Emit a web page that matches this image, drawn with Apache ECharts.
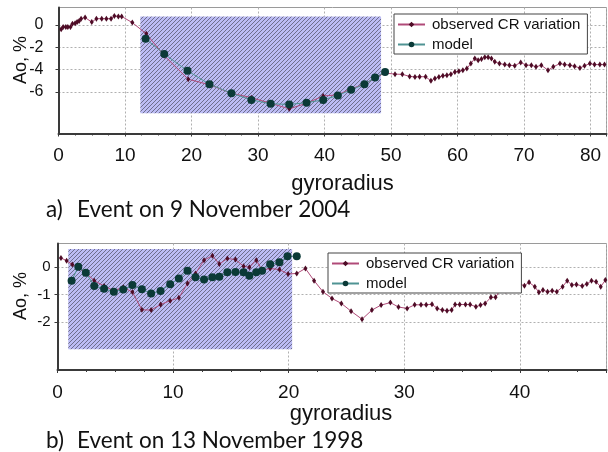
<!DOCTYPE html>
<html>
<head>
<meta charset="utf-8">
<script src="https://cdn.jsdelivr.net/npm/echarts@6/dist/echarts.min.js"></script>
<style>
  html, body { margin: 0; padding: 0; background: #fff; }
  #chart { width: 608px; height: 452px; }
</style>
</head>
<body>
<div id="chart"></div>
<script>
// panel a: event on 9 November 2004  [gyroradius, Ao %]
const obsA = [
  [0.4,-0.4],[0.7,-0.2],[1.1,-0.2],[1.4,-0.2],[1.8,-0.2],[2.1,0.1],[2.5,0.15],[2.8,0.25],[3.1,0.35],[3.4,0.55],
  [4.0,0.65],[5.0,0.25],[5.7,0.55],[6.5,0.55],[7.2,0.55],[7.9,0.55],[8.4,0.8],[9.0,0.75],[9.5,0.75],[11.1,0.2],
  [13.2,-0.8],[15.9,-2.75],[19.5,-4.85],[22.7,-5.35],[26.0,-6.1],[29.0,-6.5],[31.9,-7.0],[34.7,-7.5],[37.3,-7.0],
  [39.8,-6.35],[42.0,-6.25],[44.0,-5.7],[46.0,-5.3],[47.6,-4.7],[49.1,-4.3],[50.6,-4.4],[51.7,-4.42],[52.8,-4.6],
  [53.6,-4.65],[54.3,-4.63],[55.2,-4.63],[56.0,-5.0],[56.6,-4.8],[57.2,-4.65],[57.8,-4.55],[58.4,-4.5],[59.0,-4.4],
  [59.6,-4.2],[60.2,-4.15],[60.8,-4.05],[61.4,-3.9],[62.0,-3.45],[62.6,-3.0],[63.1,-3.15],[63.6,-3.05],[64.1,-2.9],
  [64.6,-2.9],[65.1,-3.0],[65.6,-3.3],[66.3,-3.45],[67.1,-3.55],[67.8,-3.6],[68.6,-3.65],[69.5,-3.35],[70.3,-3.6],
  [71.1,-3.6],[71.8,-3.75],[72.6,-3.6],[73.6,-4.05],[74.4,-3.75],[75.4,-3.45],[76.1,-3.55],[76.9,-3.6],[77.6,-3.7],
  [78.4,-3.85],[79.1,-3.65],[79.9,-3.45],[80.6,-3.55],[81.4,-3.55],[82.1,-3.55]
];
const modelA = [
  [13.1,-1.25],[15.9,-2.6],[19.4,-4.1],[22.7,-5.3],[26.0,-6.1],[29.0,-6.7],[31.9,-7.05],[34.7,-7.1],
  [37.3,-6.95],[39.8,-6.7],[42.0,-6.3],[44.0,-5.8],[46.0,-5.3],[47.6,-4.7],[49.1,-4.2]
];
const shadeA = [[12.3, 0.74], [48.5, -7.9]];
const yTicksA = [-6, -4, -2, 0];

// panel b: event on 13 November 1998
const obsB = [
  [0.3,0.32],[0.79,0.22],[1.28,0.08],[1.9,-0.05],[2.5,-0.24],[3.18,-0.5],[4.03,-0.69],[4.85,-0.86],[5.69,-0.74],
  [6.48,-0.91],[7.3,-1.55],[8.1,-1.56],[8.92,-1.36],[9.75,-1.22],[10.5,-1.12],[11.25,-0.6],[11.94,-0.24],
  [12.68,0.24],[13.4,0.4],[14.0,0.1],[14.7,0.3],[15.4,0.26],[16.1,0.02],[16.6,-0.02],[17.2,0.24],[17.7,-0.12],
  [18.4,-0.06],[19.2,-0.1],[19.95,-0.26],[20.7,-0.24],[21.45,-0.06],[22.2,-0.5],[22.97,-0.9],[23.75,-1.14],
  [24.56,-1.32],[25.4,-1.6],[26.35,-1.89],[27.2,-1.56],[28.0,-1.38],[28.8,-1.29],[29.5,-1.45],[30.25,-1.5],
  [30.9,-1.37],[31.45,-1.37],[31.9,-1.37],[32.4,-1.35],[32.85,-1.5],[33.3,-1.56],[33.7,-1.58],[34.1,-1.56],
  [34.4,-1.36],[34.8,-1.36],[35.3,-1.36],[35.7,-1.36],[36.2,-1.44],[36.6,-1.38],[37.0,-1.32],[37.5,-1.1],
  [37.9,-1.1],[38.3,-0.84],[38.8,-0.86],[39.2,-0.84],[39.6,-0.62],[40.0,-0.62],[40.4,-0.68],[40.8,-0.56],
  [41.3,-0.72],[41.65,-0.92],[42.0,-0.84],[42.4,-0.9],[42.8,-0.86],[43.2,-0.9],[43.7,-0.72],[44.1,-0.5],
  [44.5,-0.66],[44.9,-0.64],[45.4,-0.69],[45.8,-0.62],[46.2,-0.5],[46.6,-0.54],[47.0,-0.72],[47.4,-0.48]
];
const modelB = [
  [1.22,-0.5],[1.8,0.0],[2.45,-0.21],[3.18,-0.69],[4.03,-0.79],[4.87,-0.9],[5.69,-0.82],[6.48,-0.66],
  [7.3,-0.81],[8.1,-0.96],[8.92,-0.87],[9.75,-0.63],[10.5,-0.42],[11.25,-0.14],[11.94,-0.38],[12.68,-0.46],
  [13.4,-0.38],[14.0,-0.36],[14.7,-0.2],[15.4,-0.19],[16.1,-0.2],[16.6,-0.32],[17.2,-0.2],[17.7,-0.14],
  [18.4,0.09],[19.2,0.16],[19.9,0.38],[20.7,0.38]
];
const shadeB = [[0.93, 0.64], [20.3, -2.97]];
const yTicksB = [-2, -1, 0];

const NAMES = ['observed CR variation', 'model'];
const FONT = 'Liberation Sans, Arial, sans-serif';
const CAP = 'Lato, "Open Sans", sans-serif';
const C = {
  obsLine: '#b04a78', obsDot: '#4e0c26',
  modLine: '#4f9393', modDot: '#0b3a37',
  grid: '#b0b0b0', axis: '#3a3a3a', text: '#111'
};

function hatch() {
  const s = 4;
  const c = document.createElement('canvas');
  c.width = s; c.height = s;
  const g = c.getContext('2d');
  g.fillStyle = '#bcbcf4';
  g.fillRect(0, 0, s, s);
  g.strokeStyle = '#5a5a72';
  g.lineWidth = 0.8;
  g.beginPath();
  g.moveTo(-1, s + 1); g.lineTo(s + 1, -1);
  g.moveTo(-1, 1); g.lineTo(1, -1);
  g.moveTo(s - 1, s + 1); g.lineTo(s + 1, s - 1);
  g.stroke();
  return c;
}
const pattern = { image: hatch(), repeat: 'repeat' };

function xAxis(idx, max) {
  return {
    gridIndex: idx, type: 'value', min: 0, max: max, interval: 10,
    axisLine: { show: true, onZero: false, lineStyle: { color: C.axis, width: 2 } },
    axisTick: { show: true, length: 3, lineStyle: { color: C.axis } },
    minorTick: { show: true, splitNumber: 4, length: 2, lineStyle: { color: C.axis } },
    axisLabel: { color: C.text, fontSize: 19, fontFamily: FONT, margin: 13, showMaxLabel: false },
    splitLine: { show: true, lineStyle: { color: C.grid, type: [2, 2], width: 1 } }
  };
}
function yAxis(idx, min, max, ticks, labelSize, margin) {
  return {
    gridIndex: idx, type: 'value', min: min, max: max,
    axisLine: { show: true, onZero: false, lineStyle: { color: C.axis, width: 2 } },
    axisTick: { show: true, length: 3, customValues: ticks, lineStyle: { color: C.axis } },
    axisLabel: { color: C.text, fontSize: labelSize, fontFamily: FONT, margin: margin, customValues: ticks },
    splitLine: { show: true, lineStyle: { color: C.grid, type: [2, 2], width: 1 } }
  };
}
function obsSeries(idx, data, shade) {
  return {
    name: NAMES[0], type: 'line', xAxisIndex: idx, yAxisIndex: idx, data: data,
    symbol: 'diamond', symbolSize: [4, 6], showAllSymbol: true,
    lineStyle: { color: C.obsLine, width: 1 },
    itemStyle: { color: C.obsDot },
    markArea: {
      silent: true,
      itemStyle: { color: pattern },
      data: [[{ coord: shade[0] }, { coord: shade[1] }]]
    }
  };
}
function modelSeries(idx, data) {
  return {
    name: NAMES[1], type: 'line', xAxisIndex: idx, yAxisIndex: idx, data: data, z: 3,
    symbol: 'circle', symbolSize: 8, showAllSymbol: true,
    lineStyle: { color: C.modLine, width: 1 },
    itemStyle: { color: C.modDot }
  };
}
function legend(left, top) {
  return {
    data: NAMES, left: left, top: top, orient: 'vertical',
    itemWidth: 27, itemHeight: 7, itemGap: 5,
    padding: [3, 7, 2, 3],
    backgroundColor: '#fff', borderColor: '#444', borderWidth: 1, borderRadius: 0,
    selectedMode: false,
    textStyle: { fontSize: 15, fontFamily: FONT, color: C.text, lineHeight: 13, padding: [0, 0, 0, 2] }
  };
}
function label(text, x, y, size, opts) {
  return Object.assign({
    type: 'text', x: x, y: y,
    style: { text: text, font: size + 'px ' + FONT, fill: C.text, align: 'center', verticalAlign: 'middle' }
  }, opts || {});
}
function caption(text, x, y) {
  return { type: 'text', x: x, y: y, style: { text: text, font: '22.5px ' + CAP, fill: C.text, verticalAlign: 'middle' } };
}

const chart = echarts.init(document.getElementById('chart'), null, { renderer: 'canvas' });
chart.setOption({
  animation: false,
  backgroundColor: '#fff',
  grid: [
    { left: 58.5, right: 1.5, top: 7.5, height: 126, show: true, borderColor: '#9a9a9a', borderWidth: 1 },
    { left: 57.5, right: 1.5, top: 243.5, height: 126.5, show: true, borderColor: '#9a9a9a', borderWidth: 1 }
  ],
  xAxis: [xAxis(0, 82.4), xAxis(1, 47.5)],
  yAxis: [yAxis(0, -9.7, 1.55, yTicksA, 16, 15), yAxis(1, -3.72, 0.84, yTicksB, 15, 7)],
  legend: [legend(394, 14), legend(328, 253)],
  series: [obsSeries(0, obsA, shadeA), modelSeries(0, modelA), obsSeries(1, obsB, shadeB), modelSeries(1, modelB)],
  graphic: [
    label('Ao, %', 21, 60, 18, { rotation: Math.PI / 2 }),
    label('Ao, %', 21, 296, 18, { rotation: Math.PI / 2 }),
    label('gyroradius', 342.5, 183.5, 22),
    label('gyroradius', 341, 414, 22),
    caption('a)', 46, 209.5),
    caption('Event on 9 November 2004', 77, 209.5),
    caption('b)', 46, 441),
    caption('Event on 13 November 1998', 77, 441)
  ]
});
</script>
</body>
</html>
